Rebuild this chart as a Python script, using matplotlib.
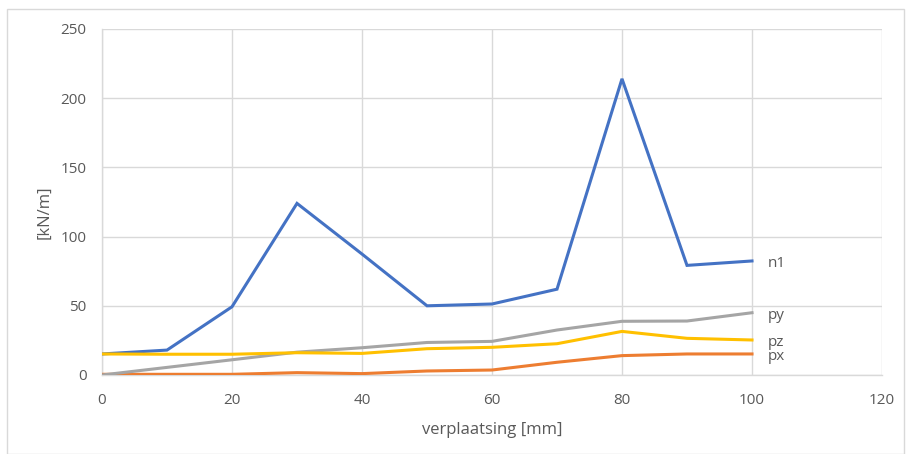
import matplotlib
matplotlib.use("Agg")
import matplotlib.pyplot as plt
from matplotlib.patches import Rectangle

plt.rcParams['font.family'] = ['Open Sans', 'DejaVu Sans']

# Displacement steps [mm]
verplaatsing = [0, 10, 20, 30, 40, 50, 60, 70, 80, 90, 100]

# Line loads [kN/m]
n1 = [15.2, 18.0, 49.3, 124.0, 87.4, 50.0, 51.3, 62.0, 214.0, 79.2, 82.4]
py = [0.0, 5.5, 11.0, 16.5, 19.7, 23.5, 24.3, 32.5, 38.8, 39.0, 45.0]
pz = [15.2, 15.0, 15.0, 16.1, 15.6, 19.0, 20.0, 22.6, 31.5, 26.5, 25.3]
px = [0.5, 0.5, 0.5, 1.7, 1.0, 2.9, 3.6, 9.2, 14.0, 15.2, 15.2]

series = [
    ("n1", n1, "#4472C4", -2),
    ("px", px, "#ED7D31", -1.5),
    ("py", py, "#A5A5A5", -2),
    ("pz", pz, "#FFC000", -2),
]

fig = plt.figure(figsize=(9.07, 4.54), dpi=100)
ax = fig.add_axes([102 / 907, 1 - 375 / 454, 780 / 907, 346 / 454])

txt = "#595959"
grid = "#d9d9d9"

for name, vals, col, dy in series:
    ax.plot(verplaatsing, vals, color=col, lw=2.2, solid_joinstyle="miter", zorder=3)
    ax.annotate(name, xy=(verplaatsing[-1], vals[-1]), xytext=(11, dy),
                textcoords="offset points", va="center", ha="left",
                fontsize=11, color=txt)

ax.set_xlim(0, 120)
ax.set_ylim(0, 250)
ax.set_xticks(range(0, 121, 20))
ax.set_yticks(range(0, 251, 50))
ax.grid(True, color=grid, lw=1)
ax.set_axisbelow(True)
for s in ("top", "right"):
    ax.spines[s].set_visible(False)
for s in ("left", "bottom"):
    ax.spines[s].set_color(grid)
    ax.spines[s].set_linewidth(1)
ax.tick_params(length=0, labelsize=11, labelcolor=txt)
ax.tick_params(axis="y", pad=11)
ax.tick_params(axis="x", pad=13)

ax.set_xlabel("verplaatsing [mm]", fontsize=12, color=txt, labelpad=10)
ax.set_ylabel("[kN/m]", fontsize=12, color=txt)
ax.yaxis.set_label_coords(-0.063, 0.47)

fig.patches.append(Rectangle((7 / 907, 0), 897 / 907, 1 - 9 / 454,
                             transform=fig.transFigure, fill=False,
                             edgecolor=grid, lw=1))

fig.savefig("out.png", dpi=100)
